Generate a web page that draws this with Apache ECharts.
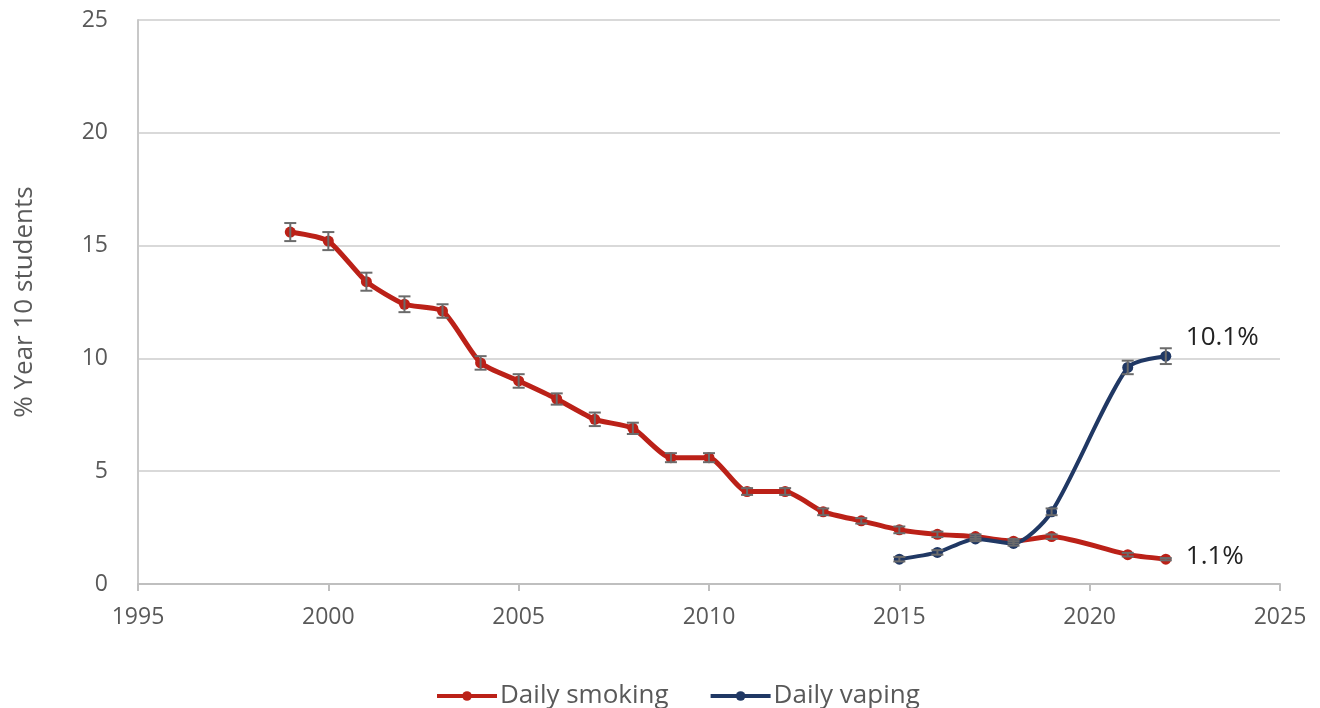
<!DOCTYPE html>
<html>
<head>
<meta charset="utf-8">
<script src="https://cdn.jsdelivr.net/npm/echarts@6/dist/echarts.min.js"></script>
<style>
  html, body { margin: 0; padding: 0; background: #fff; }
  #chart { width: 1320px; height: 708px; }
</style>
</head>
<body>
<div id="chart"></div>
<script>
// years and values (no survey in 2020)
var smokingYears = [1999, 2000, 2001, 2002, 2003, 2004, 2005, 2006, 2007, 2008, 2009, 2010, 2011, 2012, 2013, 2014, 2015, 2016, 2017, 2018, 2019, 2021, 2022];
var smokingValues = [15.6, 15.2, 13.4, 12.4, 12.1, 9.8, 9.0, 8.2, 7.3, 6.9, 5.6, 5.6, 4.1, 4.1, 3.2, 2.8, 2.4, 2.2, 2.1, 1.9, 2.1, 1.3, 1.1];
var smokingErr = [0.4, 0.4, 0.4, 0.35, 0.3, 0.3, 0.3, 0.25, 0.3, 0.25, 0.2, 0.2, 0.15, 0.15, 0.15, 0.12, 0.15, 0.12, 0.1, 0.1, 0.1, 0.08, 0.05];

var vapingYears = [2015, 2016, 2017, 2018, 2019, 2021, 2022];
var vapingValues = [1.1, 1.4, 2.0, 1.8, 3.2, 9.6, 10.1];
var vapingErr = [0.1, 0.1, 0.1, 0.1, 0.15, 0.3, 0.35];

var seriesNames = ['Daily smoking', 'Daily vaping'];
var yTitle = '% Year 10 students';

var smokingColor = '#bb2118';
var vapingColor = '#203864';
var fontFam = '"Open Sans", "Noto Sans", sans-serif';

function pairs(xs, ys) {
  return xs.map(function (x, i) { return [x, ys[i]]; });
}
function errRows(xs, ys, es) {
  return xs.map(function (x, i) { return [x, ys[i] - es[i], ys[i] + es[i]]; });
}

function renderErr(params, api) {
  var lo = api.coord([api.value(0), api.value(1)]);
  var hi = api.coord([api.value(0), api.value(2)]);
  var w = 6;
  var style = { stroke: '#6b6b6b', lineWidth: 2 };
  return {
    type: 'group',
    children: [
      { type: 'line', shape: { x1: lo[0], y1: lo[1], x2: hi[0], y2: hi[1] }, style: style },
      { type: 'line', shape: { x1: lo[0] - w, y1: lo[1], x2: lo[0] + w, y2: lo[1] }, style: style },
      { type: 'line', shape: { x1: hi[0] - w, y1: hi[1], x2: hi[0] + w, y2: hi[1] }, style: style }
    ]
  };
}

var endLabelFmt = function (p) { return p.value[1] + '%'; };

var chart = echarts.init(document.getElementById('chart'));
chart.setOption({
  animation: false,
  textStyle: { fontFamily: fontFam },
  grid: { left: 138, right: 40, top: 20, bottom: 124 },
  legend: {
    data: seriesNames,
    left: 430,
    bottom: -6,
    itemWidth: 60,
    itemHeight: 12,
    itemGap: 40,
    lineStyle: { width: 4 },
    textStyle: { fontSize: 26, color: '#595959', fontFamily: fontFam, padding: [0, 0, 0, -2] }
  },
  xAxis: {
    type: 'value',
    min: 1995,
    max: 2025,
    interval: 5,
    axisLine: { show: true, lineStyle: { color: '#bfbfbf', width: 2 } },
    axisTick: { show: true, length: 7, lineStyle: { color: '#bfbfbf', width: 2 } },
    splitLine: { show: false },
    axisLabel: { fontSize: 23, color: '#595959', margin: 22, formatter: function (v) { return String(v); } }
  },
  yAxis: {
    type: 'value',
    min: 0,
    max: 25,
    interval: 5,
    name: yTitle,
    nameLocation: 'middle',
    nameGap: 100,
    nameTextStyle: { fontSize: 26, color: '#595959' },
    axisLine: { show: true, lineStyle: { color: '#c8c8c8', width: 2 } },
    axisTick: { show: false },
    splitLine: { lineStyle: { color: '#d9d9d9', width: 2 } },
    axisLabel: { fontSize: 23, color: '#595959', margin: 30 }
  },
  series: [
    {
      name: seriesNames[0],
      type: 'line',
      data: pairs(smokingYears, smokingValues),
      smooth: 0.2,
      symbol: 'circle',
      symbolSize: 11,
      itemStyle: { color: smokingColor },
      lineStyle: { color: smokingColor, width: 5 },
      endLabel: { show: true, formatter: endLabelFmt, fontSize: 26, color: '#222', distance: 20, offset: [0, -3] },
      z: 3
    },
    {
      name: seriesNames[1],
      type: 'line',
      data: pairs(vapingYears, vapingValues),
      smooth: 0.25,
      symbol: 'circle',
      symbolSize: 11,
      itemStyle: { color: vapingColor },
      lineStyle: { color: vapingColor, width: 4 },
      endLabel: { show: true, formatter: endLabelFmt, fontSize: 26, color: '#222', distance: 20, offset: [0, -19] },
      z: 4
    },
    {
      type: 'custom',
      renderItem: renderErr,
      data: errRows(smokingYears, smokingValues, smokingErr),
      encode: { x: 0, y: [1, 2] },
      silent: true,
      z: 5
    },
    {
      type: 'custom',
      renderItem: renderErr,
      data: errRows(vapingYears, vapingValues, vapingErr),
      encode: { x: 0, y: [1, 2] },
      silent: true,
      z: 5
    }
  ]
});
</script>
</body>
</html>
